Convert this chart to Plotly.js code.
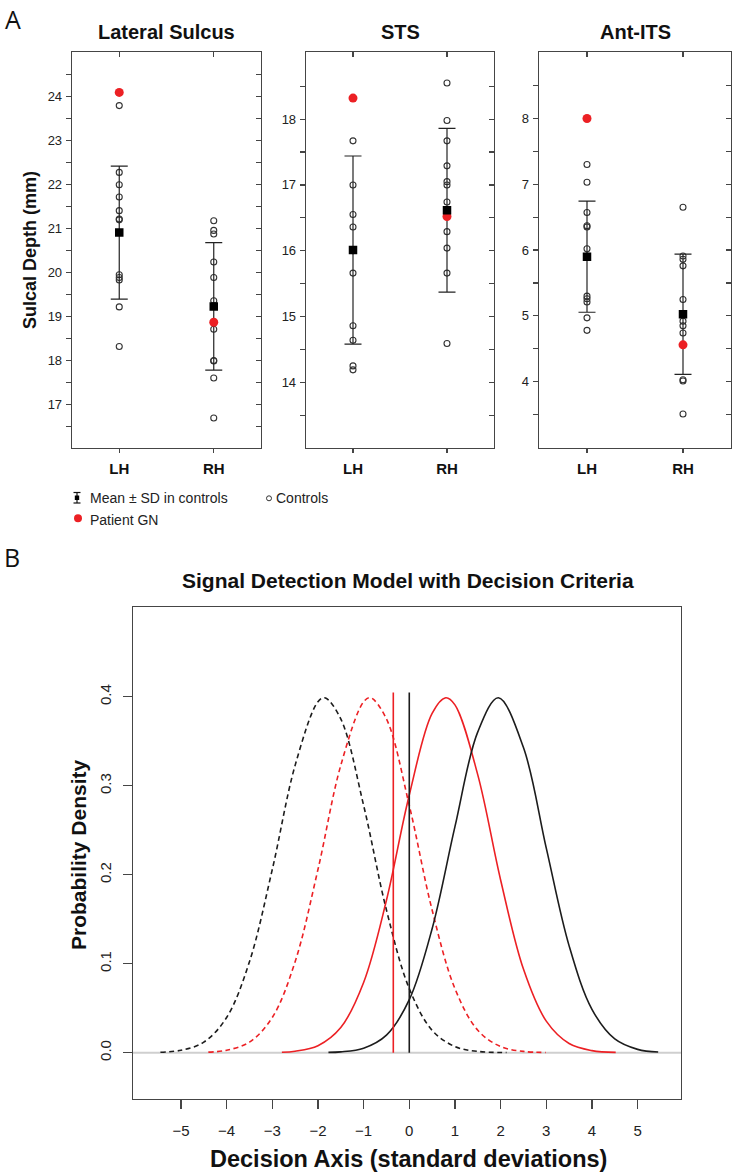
<!DOCTYPE html>
<html>
<head>
<meta charset="utf-8">
<script src="https://cdn.plot.ly/plotly-3.0.1.min.js"></script>
<style>html,body{margin:0;padding:0;background:#fff;} #chart{width:734px;height:1175px;}</style>
</head>
<body>
<div id="chart"></div>
<script>
// ---------------- Panel A data ----------------
const regionNames = ['Lateral Sulcus', 'STS', 'Ant-ITS'];
const hemiLabels = ['LH', 'RH'];

const latControlsLH = [23.8, 22.28, 22.0, 21.72, 21.41, 21.22, 21.2, 19.95, 19.89, 19.83, 19.22, 18.32];
const latControlsRH = [21.18, 20.96, 20.88, 20.24, 19.89, 19.36, 19.25, 18.71, 18.0, 17.99, 17.6, 16.69];
const stsControlsLH = [17.67, 17.0, 16.55, 16.36, 16.0, 15.66, 14.86, 14.64, 14.25, 14.19];
const stsControlsRH = [18.55, 17.98, 17.67, 17.29, 17.05, 17.0, 16.74, 16.29, 16.04, 15.66, 14.59];
const itsControlsLH = [7.30, 7.03, 6.57, 6.37, 6.35, 6.02, 5.91, 5.30, 5.26, 5.21, 4.97, 4.78];
const itsControlsRH = [6.65, 5.91, 5.86, 5.76, 5.25, 5.03, 4.92, 4.85, 4.74, 4.03, 4.01, 3.51];

const latMean = [20.91, 19.23], latSD = [1.515, 1.45];
const stsMean = [16.01, 16.615], stsSD = [1.43, 1.245];
const itsMean = [5.9, 5.025], itsSD = [0.845, 0.915];

const latPatient = [24.1, 18.87];
const stsPatient = [18.32, 16.52];
const itsPatient = [8.0, 4.56];

const latTicks = [17, 18, 19, 20, 21, 22, 23, 24];
const latMinor = [16.5, 17.5, 18.5, 19.5, 20.5, 21.5, 22.5, 23.5, 24.5];
const stsTicks = [14, 15, 16, 17, 18];
const stsMinor = [13.5, 14.5, 15.5, 16.5, 17.5, 18.5];
const itsTicks = [4, 5, 6, 7, 8];
const itsMinor = [3.5, 4.5, 5.5, 6.5, 7.5, 8.5];
const latRange = [16.02, 25.02], stsRange = [13.01, 19.02], itsRange = [3.0, 9.01];

// ---------------- Panel B data ----------------
const noiseBlackX = [-5.45, -5.0, -4.5, -4.0, -3.5, -3.0, -2.5, -2.0, -1.85, -1.5, -1.0, -0.5, 0.0, 0.5, 1.0, 1.5, 2.13];
const noiseBlackY = [0.0006, 0.0028, 0.0119, 0.0396, 0.1023, 0.2059, 0.3230, 0.3945, 0.3990, 0.3752, 0.2780, 0.1604, 0.0721, 0.0252, 0.0069, 0.0015, 0.0002];
const noiseRedX = [-4.40, -4.0, -3.5, -3.0, -2.5, -2.0, -1.5, -1.0, -0.85, -0.5, 0.0, 0.5, 1.0, 1.5, 2.0, 2.5, 2.99];
const noiseRedY = [0.0007, 0.0028, 0.0119, 0.0396, 0.1023, 0.2059, 0.3230, 0.3945, 0.3990, 0.3752, 0.2780, 0.1604, 0.0721, 0.0252, 0.0069, 0.0015, 0.0003];
const signalRedX = [-2.79, -2.5, -2.0, -1.5, -1.0, -0.5, 0.0, 0.5, 0.8, 1.0, 1.5, 2.0, 2.5, 3.0, 3.5, 4.0, 4.52];
const signalRedY = [0.0006, 0.0017, 0.0079, 0.0283, 0.0790, 0.1714, 0.2897, 0.3814, 0.3990, 0.3910, 0.3123, 0.1942, 0.0940, 0.0355, 0.0104, 0.0024, 0.0004];
const signalBlackX = [-1.77, -1.5, -1.0, -0.5, 0.0, 0.5, 1.0, 1.5, 1.95, 2.5, 3.0, 3.5, 4.0, 4.5, 5.0, 5.45];
const signalBlackY = [0.0004, 0.0010, 0.0051, 0.0198, 0.0596, 0.1394, 0.2541, 0.3606, 0.3990, 0.3430, 0.2300, 0.1201, 0.0488, 0.0155, 0.0038, 0.0008];
const criteria = [-0.35, 0.0];
const criteriaTop = [0.405, 0.405];
const xTicksB = [-5, -4, -3, -2, -1, 0, 1, 2, 3, 4, 5];
const yTicksB = [0, 0.1, 0.2, 0.3, 0.4];
const yTickTextB = ['0.0', '0.1', '0.2', '0.3', '0.4'];

// ---------------- Build ----------------
const W = 734, H = 1175;
const fx = p => p / W, fy = p => 1 - p / H;
const FONT = 'Liberation Sans, Arial, Helvetica, sans-serif';
const RED = '#ec2024', BLK = '#1c1c1c', LINE = '#454545';
const id = n => (n === 1 ? '' : String(n));

const regions = [
  {ctrl: [latControlsLH, latControlsRH], mean: latMean, sd: latSD, pat: latPatient, ticks: latTicks, minor: latMinor, range: latRange},
  {ctrl: [stsControlsLH, stsControlsRH], mean: stsMean, sd: stsSD, pat: stsPatient, ticks: stsTicks, minor: stsMinor, range: stsRange},
  {ctrl: [itsControlsLH, itsControlsRH], mean: itsMean, sd: itsSD, pat: itsPatient, ticks: itsTicks, minor: itsMinor, range: itsRange}
];
const boxA = [[72, 261], [306, 494], [539, 731]];
const topA = 52, botA = 447.5;

const traces = [];
const layout = {
  width: W, height: H, margin: {l: 0, r: 0, t: 0, b: 0},
  paper_bgcolor: '#fff', plot_bgcolor: '#fff', showlegend: false,
  font: {family: FONT, color: '#222'},
  annotations: [], shapes: []
};

regions.forEach((r, i) => {
  const n = i + 1, nt = i + 4;
  const xa = 'x' + id(n), ya = 'y' + id(n), xt = 'x' + nt, yr = 'y' + nt;
  const ctrlX = [], ctrlY = [];
  r.ctrl.forEach((arr, h) => arr.forEach(v => { ctrlX.push(hemiLabels[h]); ctrlY.push(v); }));
  traces.push({type: 'scatter', mode: 'markers', x: ctrlX, y: ctrlY, xaxis: xa, yaxis: ya,
    marker: {symbol: 'circle-open', size: 6, color: '#333', line: {width: 1.1, color: '#333'}}, hoverinfo: 'skip'});
  traces.push({type: 'scatter', mode: 'markers', x: hemiLabels, y: r.mean, xaxis: xa, yaxis: ya,
    marker: {symbol: 'square', size: 8, color: 'rgba(0,0,0,0)'},
    error_y: {type: 'data', array: r.sd, visible: true, color: '#222', thickness: 1.2, width: 8.5}, hoverinfo: 'skip'});
  traces.push({type: 'scatter', mode: 'markers', x: hemiLabels, y: r.pat, xaxis: xa, yaxis: ya,
    marker: {symbol: 'circle', size: 9, color: RED}, hoverinfo: 'skip'});
  traces.push({type: 'scatter', mode: 'markers', x: hemiLabels, y: r.mean, xaxis: xa, yaxis: ya,
    marker: {symbol: 'square', size: 8.5, color: '#000'}, hoverinfo: 'skip'});
  traces.push({type: 'scatter', mode: 'markers', x: [], y: [], xaxis: xt, yaxis: ya, hoverinfo: 'skip'});
  traces.push({type: 'scatter', mode: 'markers', x: [], y: [], xaxis: xa, yaxis: yr, hoverinfo: 'skip'});

  const [l, rr] = boxA[i];
  layout['xaxis' + id(n)] = {
    domain: [fx(l), fx(rr)], anchor: ya, type: 'category', categoryarray: hemiLabels,
    range: [-0.5, 1.5], ticks: 'outside', ticklen: 4, tickwidth: 1.2, tickcolor: LINE,
    showline: true, linecolor: LINE, linewidth: 1.3, showgrid: false, zeroline: false,
    tickfont: {family: FONT, size: 15, weight: 'bold', color: '#111'}, ticklabelstandoff: 3, fixedrange: true
  };
  layout['yaxis' + id(n)] = {
    domain: [fy(botA), fy(topA)], anchor: xa, range: r.range, tickmode: 'array', tickvals: r.ticks,
    ticks: 'outside', ticklen: 5, tickwidth: 1.2, tickcolor: LINE,
    minor: {tickmode: 'array', tickvals: r.minor, ticks: 'outside', ticklen: 5, tickwidth: 1.2, tickcolor: LINE},
    showline: true, linecolor: LINE, linewidth: 1.3, showgrid: false, zeroline: false,
    tickfont: {family: FONT, size: 13, color: '#222'}, ticklabelstandoff: 1, fixedrange: true
  };
  layout['xaxis' + nt] = {
    overlaying: xa, side: 'top', anchor: ya, range: [-0.5, 1.5], tickmode: 'array', tickvals: [0, 1],
    ticks: 'inside', ticklen: 5, tickwidth: 1.2, tickcolor: LINE, showticklabels: false,
    showline: true, linecolor: LINE, linewidth: 1.3, showgrid: false, zeroline: false, fixedrange: true
  };
  layout['yaxis' + nt] = {
    overlaying: ya, side: 'right', anchor: xa, range: r.range, tickmode: 'array', tickvals: r.ticks,
    ticks: 'inside', ticklen: 5, tickwidth: 1.2, tickcolor: LINE,
    minor: {tickmode: 'array', tickvals: r.minor, ticks: 'inside', ticklen: 5, tickwidth: 1.2, tickcolor: LINE},
    showticklabels: false, showline: true, linecolor: LINE, linewidth: 1.3, showgrid: false, zeroline: false, fixedrange: true
  };
  layout.annotations.push({text: regionNames[i], xref: 'paper', yref: 'paper', x: fx((l + rr) / 2), y: fy(32),
    xanchor: 'center', yanchor: 'middle', showarrow: false, font: {family: FONT, size: 20, weight: 'bold', color: '#111'}});
});

// ---------------- Panel B ----------------
const curveSpec = [
  [noiseBlackX, noiseBlackY, BLK, '5px,3.5px'],
  [noiseRedX, noiseRedY, RED, '5px,3.5px'],
  [signalRedX, signalRedY, RED, 'solid'],
  [signalBlackX, signalBlackY, BLK, 'solid']
];
curveSpec.forEach(([x, y, c, d]) => traces.push({type: 'scatter', mode: 'lines', x: x, y: y, xaxis: 'x7', yaxis: 'y7',
  line: {color: c, width: 1.6, dash: d, shape: 'spline', smoothing: 1}, hoverinfo: 'skip'}));
const critColors = [RED, BLK];
criteria.forEach((c, k) => traces.push({type: 'scatter', mode: 'lines', x: [c, c], y: [0, criteriaTop[k]],
  xaxis: 'x7', yaxis: 'y7', line: {color: critColors[k], width: 1.6}, hoverinfo: 'skip'}));

const bL = 133, bR = 681, bT = 607, bB = 1099;
layout.xaxis7 = {
  domain: [fx(bL), fx(bR)], anchor: 'y7', range: [-6.05, 5.95], tickmode: 'array', tickvals: xTicksB,
  ticks: 'outside', ticklen: 9, tickwidth: 1.1, tickcolor: LINE, showline: true, mirror: true,
  linecolor: LINE, linewidth: 1.2, showgrid: false, zeroline: false,
  tickfont: {family: FONT, size: 15, color: '#222'}, ticklabelstandoff: 9, fixedrange: true
};
layout.yaxis7 = {
  domain: [fy(bB), fy(bT)], anchor: 'x7', range: [-0.052, 0.501], tickmode: 'array', tickvals: yTicksB,
  ticktext: yTickTextB, tickangle: -90, ticks: 'outside', ticklen: 9, tickwidth: 1.1, tickcolor: LINE,
  showline: true, mirror: true, linecolor: LINE, linewidth: 1.2, showgrid: false, zeroline: false,
  tickfont: {family: FONT, size: 15, color: '#222'}, ticklabelstandoff: 6, fixedrange: true
};
layout.shapes.push({type: 'line', xref: 'x7 domain', yref: 'y7', x0: 0, x1: 1, y0: 0, y1: 0,
  line: {color: '#cfcfcf', width: 2}, layer: 'below'});

// ---------------- Text ----------------
const ann = (text, x, y, size, opts = {}) => layout.annotations.push(Object.assign({
  text: text, xref: 'paper', yref: 'paper', x: fx(x), y: fy(y), xanchor: 'center', yanchor: 'middle',
  showarrow: false, font: {family: FONT, size: size, color: '#111'}}, opts));
ann('A', 13, 19, 25, {font: {family: 'Open Sans, DejaVu Sans, sans-serif', size: 25, color: '#111'}});
ann('B', 12, 557, 25, {font: {family: 'Open Sans, DejaVu Sans, sans-serif', size: 25, color: '#111'}});
ann('Sulcal Depth (mm)', 30, 250, 18, {textangle: -90, font: {family: FONT, size: 18, weight: 'bold', color: '#111'}});
ann('Mean ± SD in controls', 88, 498, 14, {xanchor: 'left', font: {family: FONT, size: 14, color: '#222'}});
ann('Controls', 274, 498, 14, {xanchor: 'left', font: {family: FONT, size: 14, color: '#222'}});
ann('Patient GN', 88, 520, 14, {xanchor: 'left', font: {family: FONT, size: 14, color: '#222'}});
ann('Signal Detection Model with Decision Criteria', 408, 580, 21, {font: {family: FONT, size: 21, weight: 'bold', color: '#111'}});
ann('Probability Density', 78, 855, 21, {textangle: -90, font: {family: FONT, size: 21, weight: 'bold', color: '#111'}});
ann('Decision Axis (standard deviations)', 408, 1159, 23.5, {font: {family: FONT, size: 23.5, weight: 'bold', color: '#111'}});

// legend icons
const P = (x0, y0, x1, y1) => ({xref: 'paper', yref: 'paper', x0: fx(x0), x1: fx(x1), y0: fy(y0), y1: fy(y1)});
layout.shapes.push(Object.assign({type: 'line', line: {color: '#111', width: 1.2}}, P(77, 492.5, 77, 503)));
layout.shapes.push(Object.assign({type: 'line', line: {color: '#111', width: 1.2}}, P(73.5, 492.5, 80.5, 492.5)));
layout.shapes.push(Object.assign({type: 'line', line: {color: '#111', width: 1.2}}, P(73.5, 503, 80.5, 503)));
layout.shapes.push(Object.assign({type: 'rect', fillcolor: '#000', line: {width: 0}}, P(74.8, 495.5, 79.2, 500)));
layout.shapes.push(Object.assign({type: 'circle', fillcolor: 'rgba(0,0,0,0)', line: {color: '#333', width: 1}}, P(266.5, 495.8, 271.5, 500.8)));
layout.shapes.push(Object.assign({type: 'circle', fillcolor: RED, line: {width: 0}}, P(74, 514.3, 82, 522.3)));

Plotly.newPlot('chart', traces, layout, {staticPlot: true, displayModeBar: false});
</script>
</body>
</html>
